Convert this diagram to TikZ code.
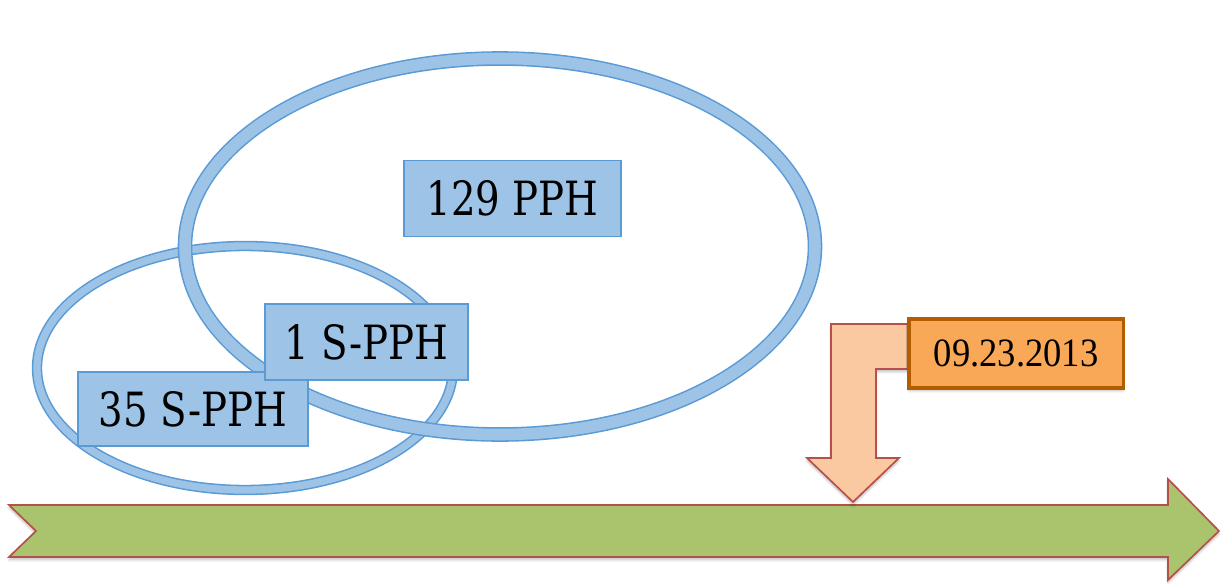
\documentclass[tikz,border=0pt]{standalone}
\usepackage{fontspec}
\usepackage{graphicx}
\usetikzlibrary{shadows.blur}
\newfontfamily\boxfont{DejaVu Serif}
\newfontfamily\datefont{Liberation Serif}
\definecolor{ringfill}{HTML}{9DC3E6}
\definecolor{ringedge}{HTML}{5B9BD5}
\definecolor{linegreen}{HTML}{A9C46C}
\definecolor{arrowedge}{HTML}{B5504A}
\definecolor{bentfill}{HTML}{FAC9A1}
\definecolor{datefill}{HTML}{F9A857}
\definecolor{dateedge}{HTML}{B35C00}
\newcommand{\pphtext}[1]{\scalebox{1}[1.22]{\boxfont\fontsize{27.5}{30}\selectfont #1}}
\newcommand{\datetext}[1]{\scalebox{1}[1.1]{\datefont\fontsize{26}{30}\selectfont #1}}

\begin{document}
\begin{tikzpicture}[x=0.025cm,y=-0.025cm,
        ring/.style={draw=ringedge, double=ringfill},
        pphbox/.style={draw=ringedge, line width=1.4pt, fill=ringfill, inner sep=0pt},
        soft/.style={blur shadow={shadow blur steps=6, shadow xshift=0pt, shadow yshift=-2pt, shadow opacity=25}}]
        \useasboundingbox (0,0) rectangle (1220,585);

        \draw[ring, line width=1.1pt, double distance=5.2pt] (245,368) ellipse [x radius=208, y radius=122];
        \draw[ring, line width=1.1pt, double distance=8.2pt] (500,246.5) ellipse [x radius=315, y radius=188];

        \draw[soft, fill=linegreen, draw=arrowedge, line width=1.2pt, line join=miter]
                (9,505) -- (1168,505) -- (1168,479) -- (1219,531) -- (1168,580) -- (1168,557) -- (9,557) -- (36,531) -- cycle;
        \draw[soft, fill=bentfill, draw=arrowedge, line width=1.2pt, line join=miter]
                (831,324) -- (915,324) -- (915,369) -- (876,369) -- (876,458) -- (899,458) -- (853,502) -- (807,458) -- (831,458) -- cycle;

        \node[pphbox, minimum width=5.4cm, minimum height=1.9cm] (whole) at (512.5,198.5) {\pphtext{129 PPH}};
        \node[pphbox, minimum width=5.75cm, minimum height=1.85cm] (subset) at (193,409) {\pphtext{35 S-PPH}};
        \node[pphbox, minimum width=5.075cm, minimum height=1.9cm] (overlap) at (366.5,342) {\pphtext{1 S-PPH}};

        \node[soft, draw=dateedge, line width=2.2pt, fill=datefill, inner sep=0pt, minimum width=5.35cm, minimum height=1.725cm] (date) at (1016,353.5) {\datetext{09.23.2013}};
\end{tikzpicture}
\end{document}
